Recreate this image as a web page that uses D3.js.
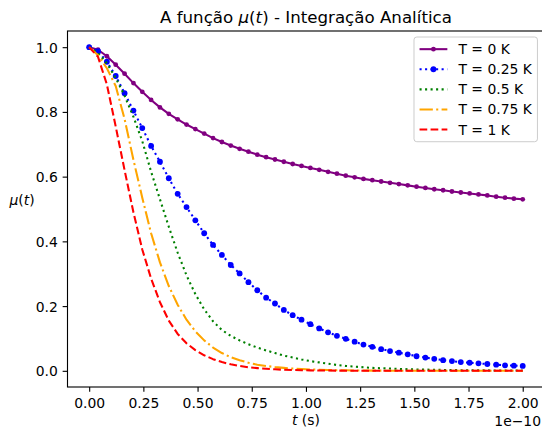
<!DOCTYPE html>
<html>
<head>
<meta charset="utf-8">
<script src="https://cdn.jsdelivr.net/npm/d3@7"></script>
<style>
  body { margin: 0; background: #ffffff; }
  svg { display: block; }
  text { font-family: "DejaVu Sans", sans-serif; fill: #000000; }
</style>
</head>
<body>
<div id="chart"></div>
<script>
// Time samples, in units of 1e-10 s
const timeE10 = [
  0.0000, 0.0408, 0.0816, 0.1224, 0.1633, 0.2041, 0.2449, 0.2857, 0.3265, 0.3673,
  0.4082, 0.4490, 0.4898, 0.5306, 0.5714, 0.6122, 0.6531, 0.6939, 0.7347, 0.7755,
  0.8163, 0.8571, 0.8980, 0.9388, 0.9796, 1.0204, 1.0612, 1.1020, 1.1429, 1.1837,
  1.2245, 1.2653, 1.3061, 1.3469, 1.3878, 1.4286, 1.4694, 1.5102, 1.5510, 1.5918,
  1.6327, 1.6735, 1.7143, 1.7551, 1.7959, 1.8367, 1.8776, 1.9184, 1.9592, 2.0000
];

// mu(t) for each temperature
const muT0 = [
  1.000, 0.992, 0.972, 0.946, 0.918, 0.889, 0.862, 0.837, 0.814, 0.794,
  0.777, 0.761, 0.747, 0.733, 0.719, 0.707, 0.696, 0.686, 0.677, 0.668,
  0.660, 0.653, 0.646, 0.639, 0.633, 0.627, 0.621, 0.615, 0.609, 0.603,
  0.598, 0.593, 0.589, 0.585, 0.581, 0.577, 0.573, 0.569, 0.565, 0.561,
  0.558, 0.554, 0.551, 0.548, 0.545, 0.542, 0.538, 0.535, 0.532, 0.530
];
const muT025 = [
  1.000, 0.988, 0.955, 0.911, 0.858, 0.804, 0.750, 0.695, 0.646, 0.595,
  0.547, 0.506, 0.465, 0.425, 0.389, 0.358, 0.327, 0.301, 0.274, 0.249,
  0.226, 0.208, 0.188, 0.172, 0.158, 0.144, 0.131, 0.119, 0.108, 0.099,
  0.090, 0.081, 0.074, 0.067, 0.061, 0.056, 0.051, 0.045, 0.041, 0.037,
  0.033, 0.030, 0.027, 0.025, 0.023, 0.021, 0.019, 0.017, 0.016, 0.015
];
const muT05 = [
  1.000, 0.982, 0.950, 0.905, 0.850, 0.785, 0.710, 0.615, 0.530, 0.445,
  0.365, 0.295, 0.237, 0.190, 0.153, 0.126, 0.108, 0.094, 0.082, 0.072,
  0.063, 0.055, 0.047, 0.041, 0.035, 0.030, 0.026, 0.022, 0.018, 0.015,
  0.013, 0.011, 0.009, 0.008, 0.007, 0.006, 0.005, 0.0043, 0.0037, 0.0032,
  0.0027, 0.0023, 0.0020, 0.0017, 0.0015, 0.0013, 0.0011, 0.0009, 0.0008, 0.0007
];
const muT075 = [
  1.000, 0.975, 0.935, 0.880, 0.778, 0.652, 0.535, 0.425, 0.335, 0.262,
  0.204, 0.158, 0.122, 0.094, 0.072, 0.055, 0.042, 0.033, 0.025, 0.019,
  0.015, 0.0115, 0.0090, 0.0070, 0.0054, 0.0042, 0.0033, 0.0025, 0.0019, 0.0015,
  0.0012, 0.0009, 0.0007, 0.0005, 0.0004, 0.0003, 0.0003, 0.0002, 0.0002, 0.0001,
  0.0001, 0.0001, 0.0001, 0.0000, 0.0000, 0.0000, 0.0000, 0.0000, 0.0000, 0.0000
];
const muT1 = [
  1.000, 0.970, 0.885, 0.755, 0.620, 0.490, 0.375, 0.285, 0.212, 0.155,
  0.114, 0.085, 0.064, 0.048, 0.036, 0.027, 0.020, 0.015, 0.011, 0.0083,
  0.0062, 0.0046, 0.0034, 0.0025, 0.0019, 0.0014, 0.0010, 0.0008, 0.0006, 0.0004,
  0.0003, 0.0002, 0.0002, 0.0001, 0.0001, 0.0001, 0.0000, 0.0000, 0.0000, 0.0000,
  0.0000, 0.0000, 0.0000, 0.0000, 0.0000, 0.0000, 0.0000, 0.0000, 0.0000, 0.0000
];

const seriesLabels = ["T = 0 K", "T = 0.25 K", "T = 0.5 K", "T = 0.75 K", "T = 1 K"];

const xTicks = [0, 0.25, 0.5, 0.75, 1.0, 1.25, 1.5, 1.75, 2.0];
const xTickLabels = ["0.00", "0.25", "0.50", "0.75", "1.00", "1.25", "1.50", "1.75", "2.00"];
const yTicks = [0, 0.2, 0.4, 0.6, 0.8, 1.0];
const yTickLabels = ["0.0", "0.2", "0.4", "0.6", "0.8", "1.0"];

// Line width 1.5pt at 100 dpi
const LW = 2.08;
const seriesStyles = [
  { color: "#800080", dash: null,                  markerR: 2.4 },
  { color: "#0000ff", dash: "2.08,3.43",           markerR: 2.9 },
  { color: "#008000", dash: "2.08,3.43",           markerR: 0 },
  { color: "#ffa500", dash: "13.3,3.33,2.08,3.33", markerR: 0 },
  { color: "#ff0000", dash: "7.7,3.33",            markerR: 0 }
];
const seriesValues = [muT0, muT025, muT05, muT075, muT1];
const series = seriesValues.map((vals, k) => ({
  label: seriesLabels[k],
  points: timeE10.map((t, i) => [t, vals[i]]),
  ...seriesStyles[k]
}));

const W = 542, H = 430;
const plot = { left: 67.5, right: 544.4, top: 31, bottom: 387 };
const FS = 13.9;

const svg = d3.select("#chart").append("svg")
  .attr("width", W).attr("height", H)
  .attr("viewBox", `0 0 ${W} ${H}`);

const x = d3.scaleLinear().domain([-0.1, 2.1]).range([plot.left, plot.right]);
const y = d3.scaleLinear().domain([-0.05, 1.05]).range([plot.bottom, plot.top]);

svg.append("defs").append("clipPath").attr("id", "plot-clip")
  .append("rect")
  .attr("x", plot.left).attr("y", plot.top)
  .attr("width", plot.right - plot.left).attr("height", plot.bottom - plot.top);

// Axes with ticks
const xAxis = d3.axisBottom(x)
  .tickValues(xTicks)
  .tickFormat((d, i) => xTickLabels[i])
  .tickSizeInner(4.86).tickSizeOuter(0).tickPadding(6.6);
const yAxis = d3.axisLeft(y)
  .tickValues(yTicks)
  .tickFormat((d, i) => yTickLabels[i])
  .tickSizeInner(4.86).tickSizeOuter(0).tickPadding(4.86);

const gx = svg.append("g").attr("transform", `translate(0,${plot.bottom})`).call(xAxis);
const gy = svg.append("g").attr("transform", `translate(${plot.left},0)`).call(yAxis);
[gx, gy].forEach(g => {
  g.select(".domain").remove();
  g.selectAll(".tick line").attr("stroke", "#000").attr("stroke-width", 1.11);
  g.selectAll(".tick text").attr("font-size", FS).attr("font-family", "DejaVu Sans").attr("fill", "#000");
});
gy.selectAll(".tick text").attr("dy", "0.36em");

// Curves
const line = d3.line().x(d => x(d[0])).y(d => y(d[1]));
const curves = svg.append("g").attr("clip-path", "url(#plot-clip)");
series.forEach(s => {
  curves.append("path")
    .attr("d", line(s.points))
    .attr("fill", "none")
    .attr("stroke", s.color)
    .attr("stroke-width", LW)
    .attr("stroke-dasharray", s.dash)
    .attr("stroke-linejoin", "round");
  if (s.markerR > 0) {
    curves.selectAll(null).data(s.points).enter().append("circle")
      .attr("cx", d => x(d[0])).attr("cy", d => y(d[1]))
      .attr("r", s.markerR).attr("fill", s.color);
  }
});

// Spines
svg.append("rect")
  .attr("x", plot.left).attr("y", plot.top)
  .attr("width", plot.right - plot.left).attr("height", plot.bottom - plot.top)
  .attr("fill", "none").attr("stroke", "#000").attr("stroke-width", 1.11);

// Title, centred over the axes
const title = svg.append("text")
  .attr("x", (plot.left + plot.right) / 2).attr("y", 23)
  .attr("text-anchor", "middle").attr("font-size", 16.67);
title.append("tspan").text("A função ");
title.append("tspan").attr("font-style", "italic").text("μ");
title.append("tspan").text("(");
title.append("tspan").attr("font-style", "italic").text("t");
title.append("tspan").text(") - Integração Analítica");

// Axis labels
const xl = svg.append("text")
  .attr("x", (plot.left + plot.right) / 2).attr("y", 425)
  .attr("text-anchor", "middle").attr("font-size", FS);
xl.append("tspan").attr("font-style", "italic").text("t");
xl.append("tspan").text(" (s)");

const yl = svg.append("text")
  .attr("x", 22).attr("y", 205)
  .attr("text-anchor", "middle").attr("font-size", FS);
yl.append("tspan").attr("font-style", "italic").text("μ");
yl.append("tspan").text("(");
yl.append("tspan").attr("font-style", "italic").text("t");
yl.append("tspan").text(")");

// Scale multiplier for the time axis
svg.append("text")
  .attr("x", W - 1).attr("y", 426)
  .attr("text-anchor", "end").attr("font-size", FS)
  .text("1e\u221210");

// Legend
const pad = 0.4 * FS, handleLen = 2 * FS, handleGap = 0.8 * FS, rowStep = 20.1;
const legend = svg.append("g");
const legBox = legend.append("rect");
const labels = series.map(s => legend.append("text").attr("font-size", FS).text(s.label));
const textW = d3.max(labels, t => t.node().getComputedTextLength());
const legRight = plot.right - 0.5 * FS;
const legTop = 37;
const legLeft = legRight - (pad + handleLen + handleGap + textW + pad);
const firstRow = legTop + pad + 6.6;
legBox
  .attr("x", legLeft).attr("y", legTop)
  .attr("width", legRight - legLeft)
  .attr("height", (firstRow + rowStep * (series.length - 1) + 6.6 + pad) - legTop)
  .attr("rx", 2.8).attr("ry", 2.8)
  .attr("fill", "#ffffff").attr("fill-opacity", 0.8)
  .attr("stroke", "#cccccc").attr("stroke-width", 1.0);
series.forEach((s, k) => {
  const cy = firstRow + k * rowStep;
  const hx = legLeft + pad;
  legend.append("line")
    .attr("x1", hx).attr("x2", hx + handleLen)
    .attr("y1", cy).attr("y2", cy)
    .attr("stroke", s.color).attr("stroke-width", LW)
    .attr("stroke-dasharray", s.dash);
  if (s.markerR > 0) {
    legend.append("circle")
      .attr("cx", hx + handleLen / 2).attr("cy", cy)
      .attr("r", s.markerR).attr("fill", s.color);
  }
  labels[k].attr("x", hx + handleLen + handleGap).attr("y", cy + 5).raise();
});
</script>
</body>
</html>
